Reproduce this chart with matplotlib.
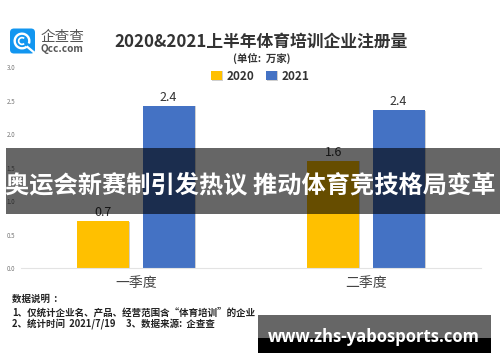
import matplotlib
matplotlib.use("Agg")
import matplotlib.pyplot as plt
import matplotlib.patheffects as pe
from matplotlib.patches import FancyBboxPatch, Rectangle, Wedge
import numpy as np

plt.rcParams['font.family'] = ['Noto Sans CJK SC', 'DejaVu Sans']

categories = ['一季度', '二季度']
series_names = ['2020', '2021']
values_2020 = [0.70, 1.60]
values_2021 = [2.43, 2.36]
labels_2020 = ['0.7', '1.6']
labels_2021 = ['2.4', '2.4']
y_ticks = [0.0, 0.5, 1.0, 1.5, 2.0, 2.5, 3.0]
title = '2020&2021上半年体育培训企业注册量'
unit = '(单位:  万家)'
notes = ['数据说明  :', '1、仅统计企业名、产品、经营范围含“体育培训”的企业',
         '2、统计时间  2021/7/19     3、数据来源:  企查查']
banner = '奥运会新赛制引发热议 推动体育竞技格局变革'
url = 'www.zhs-yabosports.com'

W, H = 500, 362
fig = plt.figure(figsize=(W/100, H/100), dpi=100, facecolor='white')

# chart axes
ax = fig.add_axes([21/W, 1-268/H, 460/W, (268-67.5)/H])
x = np.arange(len(categories))
bw = 52/230
off = 0.142
shadow = [pe.SimplePatchShadow(offset=(0.8, -0.3), shadow_rgbFace='#888888', alpha=0.4), pe.Normal()]
b1 = ax.bar(x-off, values_2020, bw, color='#FFC000', label=series_names[0], path_effects=shadow)
b2 = ax.bar(x+off, values_2021, bw, color='#4472C4', label=series_names[1], path_effects=shadow)
ax.set_xlim(-0.5, 1.5)
ax.set_ylim(0, 3.0)
for r, t in zip(list(b1)+list(b2), labels_2020+labels_2021):
    ax.annotate(t, (r.get_x()+r.get_width()/2, r.get_height()), xytext=(0, 1.5), textcoords='offset points',
                ha='center', va='bottom', fontsize=9, color='#333333')
for s in ['top', 'right', 'left']:
    ax.spines[s].set_visible(False)
ax.spines['bottom'].set_color('#E3E3E3')
ax.spines['bottom'].set_linewidth(0.8)
ax.set_xticks(x, categories, fontsize=10, color='#444444')
ax.tick_params(axis='x', length=0, pad=6)
ax.set_yticks(y_ticks, [f'{v:.1f}' for v in y_ticks], fontsize=4.5, color='#777777')
ax.tick_params(axis='y', length=0, pad=4)
leg = ax.legend(handles=[b1, b2], ncol=2, loc='center', bbox_transform=fig.transFigure,
                bbox_to_anchor=(260.5/W, 1-76/H), frameon=False, fontsize=8.5,
                handlelength=0.9, handleheight=0.9, handletextpad=0.45, columnspacing=0.95)
for t in leg.get_texts():
    t.set_color('#333333'); t.set_fontweight('bold')

# overlay in pixel coordinates
ov = fig.add_axes([0, 0, 1, 1], facecolor='none')
ov.set_xlim(0, W); ov.set_ylim(H, 0); ov.axis('off')

ov.text(261.5, 42, title, fontsize=12.1, fontweight='bold', color='#333333', ha='center', va='center')
ov.text(262, 59, unit, fontsize=7.5, fontweight='bold', color='#333333', ha='center', va='center')

# logo
ov.add_patch(FancyBboxPatch((10, 28.5), 25, 25, boxstyle='round,pad=0,rounding_size=4', fc='#1296F0', ec='none'))
ov.add_patch(Wedge((22, 41), 8.5, 50, 20, width=2.4, fc='white', ec='none'))
ov.add_patch(Wedge((22, 41), 4.2, 50, 310, width=1.7, fc='white', ec='none'))
ov.plot([27.5, 33.5], [47, 52], color='white', lw=1.6)
ov.text(62, 36.5, '企查查', fontsize=10.5, color='#555555', ha='center', va='center')
ov.text(62, 49.5, 'Qcc.com', fontsize=7.2, color='#555555', ha='center', va='center', fontweight='bold')

# notes
for yy, t in zip([299, 313, 324], notes):
    ov.text(12, yy, t, fontsize=6.8, fontweight='bold', color='#222222', ha='left', va='center')

# banner
ov.add_patch(Rectangle((6, 148), 494, 66, fc='black', alpha=0.6, ec='none'))
ov.text(250, 185, banner, fontsize=17.45, fontweight='bold', color='white', ha='center', va='center')

# url box
ov.add_patch(Rectangle((258, 315), 233, 23, fc='#666666', ec='none'))
ov.add_patch(Rectangle((258, 338), 233, 15, fc='black', ec='none'))
ov.text(374, 336.5, url, fontsize=12, fontweight='bold', color='white', ha='center', va='center',
        family=['Open Sans', 'DejaVu Sans'])

fig.savefig('out.png', dpi=100)
